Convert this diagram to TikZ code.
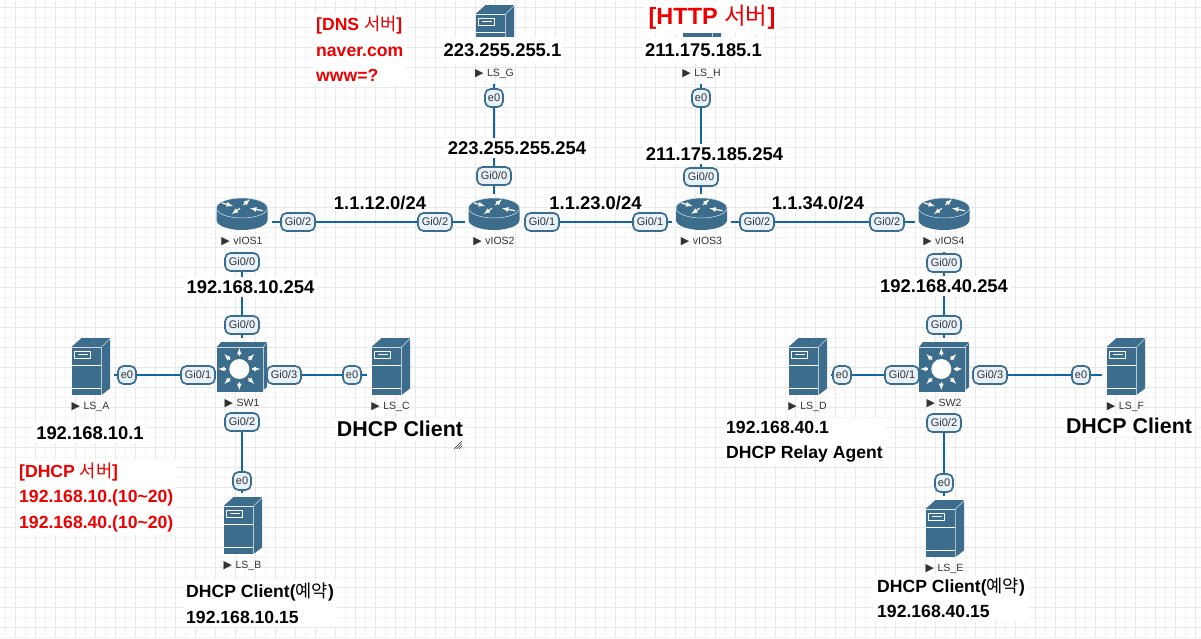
\documentclass[tikz,border=0pt]{standalone}
\usepackage{fontspec}
\setmainfont{Liberation Sans}
\newfontfamily\krfont{Noto Sans CJK KR}
\newfontfamily\symfont{DejaVu Sans}
\usetikzlibrary{shapes,arrows,positioning,backgrounds}

\definecolor{iconblue}{HTML}{3D6D8C}
\definecolor{linkblue}{HTML}{0F66A3}
\definecolor{pillfill}{HTML}{E8F2FA}
\definecolor{griddark}{HTML}{E9E9E9}
\definecolor{gridlight}{HTML}{F5F5F5}
\definecolor{labelgrey}{HTML}{333333}
\definecolor{notered}{HTML}{EE0000}

\newcommand{\devname}[1]{{\symfont\fontsize{11}{11}\selectfont ▶}\,\,#1}
\newcommand{\seo}{{\krfont\mdseries 서버}}
\newcommand{\yeyak}{{\krfont\mdseries 예약}}

\tikzset{
    link/.style={draw=linkblue, line width=2pt, shorten <=4pt, shorten >=4pt},
    pill/.style={draw=iconblue, fill=pillfill, line width=1.7pt, rounded corners=5.5pt, inner sep=0pt,
        minimum width=34pt, minimum height=18pt, text=labelgrey, font=\fontsize{11}{11}\selectfont},
    epill/.style={pill, minimum width=18pt},
    devlabel/.style={inner sep=0pt, outer sep=0pt, minimum height=12pt, yshift=-5.5pt, text=labelgrey, font=\fontsize{10.5}{10.5}\selectfont},
    devbox/.style={inner sep=0pt, outer sep=0pt},
    routerbox/.style={devbox, minimum width=51pt, minimum height=32pt},
    switchbox/.style={devbox, minimum width=50pt, minimum height=50pt},
    serverbox/.style={devbox, minimum width=39pt, minimum height=57pt},
    addr/.style={fill=white, inner sep=3pt, font=\bfseries\fontsize{18.4}{18.4}\selectfont},
    subnet/.style={addr, inner sep=1pt},
    bigname/.style={addr, font=\bfseries\fontsize{21.4}{21.4}\selectfont},
    note/.style={fill=white, inner sep=3pt, align=left, anchor=west, font=\bfseries\fontsize{17.6}{25.5}\selectfont},
    rednote/.style={note, text=notered},
    swarrow/.style={white, line width=1.2pt, -latex},
    rtarrow/.style={white, line width=1.2pt, -latex},
    serverpic/.pic={
        \fill[iconblue] (-19,-19.5) -- (-9,-28.5) -- (19.5,-28.5) -- (10.5,-19.5) -- cycle;
        \fill[iconblue] (11,-19) -- (19.5,-27.5) -- (19.5,22) -- (11,28.5) -- cycle;
        \fill[iconblue] (-19,-18.5) rectangle (10,28.5);
        \draw[white, line width=1pt] (-19,-1.5) -- (10,-1.5) (-19,21.5) -- (10,21.5);
        \draw[white, line width=1pt] (-16,-15.5) rectangle (0,-8.5);
        \draw[white, line width=1pt] (-13,-12) -- (-3,-12);
    },
    switchpic/.pic={
        \fill[iconblue] (-25,-20) -- (-21,-25) -- (25,-25) -- (21,-20) -- cycle;
        \fill[iconblue] (21.5,-19.5) -- (25,-24) -- (25,20) -- (21.5,23) -- cycle;
        \fill[iconblue] (-25,-19.5) rectangle (21,25);
        \begin{scope}[shift={(-2.7,2)}]
            \fill[white] (0,0) circle (10);
            \draw[swarrow] (0:13) -- (0:21); \draw[swarrow] (45:13) -- (45:21);
            \draw[swarrow] (90:13) -- (90:21); \draw[swarrow] (135:13) -- (135:21);
            \draw[swarrow] (180:13) -- (180:21); \draw[swarrow] (225:13) -- (225:21);
            \draw[swarrow] (270:13) -- (270:21); \draw[swarrow] (315:13) -- (315:21);
        \end{scope}
    },
    routerpic/.pic={
        \fill[iconblue] (-25.5,-6) -- (-25.5,6) arc[start angle=180, end angle=360, x radius=25.5, y radius=-10] -- (25.5,-6) -- cycle;
        \draw[fill=iconblue, draw=white!80!iconblue, line width=0.5pt] (0,-6) ellipse (25.5 and 10);
        \draw[rtarrow] (-20,-11) -- (-9,-8);
        \draw[rtarrow] (1.3,-9) -- (8,-14.7);
        \draw[rtarrow] (-2,-5.7) -- (-10.3,0);
        \draw[rtarrow] (21,-3.3) -- (8,-5.7);
    },
}

\begin{document}
\begin{tikzpicture}[x=1pt, y=-1pt]
    \useasboundingbox (0,0) rectangle (1201,638);

    % routers
    \node (vIOS1) [routerbox, label={[devlabel, name=vIOS1lbl]below:\devname{vIOS1}}] at (242,214) {};
    \node (vIOS2) [routerbox, label={[devlabel, name=vIOS2lbl]below:\devname{vIOS2}}] at (494,214) {};
    \node (vIOS3) [routerbox, label={[devlabel, name=vIOS3lbl]below:\devname{vIOS3}}] at (701.5,214) {};
    \node (vIOS4) [routerbox, label={[devlabel, name=vIOS4lbl]below:\devname{vIOS4}}] at (944,214) {};
    % switches
    \node (SW1) [switchbox, label={[devlabel, name=SW1lbl]below:\devname{SW1}}] at (242,367) {};
    \node (SW2) [switchbox, label={[devlabel, name=SW2lbl]below:\devname{SW2}}] at (944,367) {};
    % servers
    \node (LSA) [serverbox, label={[devlabel]below:\devname{LS\_A}}] at (90.5,366.5) {};
    \node (LSB) [serverbox, label={[devlabel]below:\devname{LS\_B}}] at (242.5,525.5) {};
    \node (LSC) [serverbox, label={[devlabel]below:\devname{LS\_C}}] at (390.5,366.5) {};
    \node (LSD) [serverbox, label={[devlabel]below:\devname{LS\_D}}] at (807.5,366.5) {};
    \node (LSE) [serverbox, label={[devlabel]below:\devname{LS\_E}}] at (944.5,528.5) {};
    \node (LSF) [serverbox, label={[devlabel]below:\devname{LS\_F}}] at (1125.5,366.5) {};
    \node (LSG) [serverbox, label={[devlabel, name=LSGlbl]below:\devname{LS\_G}}] at (494.5,33.5) {};
    \node (LSH) [serverbox, label={[devlabel, name=LSHlbl]below:\devname{LS\_H}}] at (701.5,33.5) {};

    \pic at (vIOS1) {routerpic};
    \pic at (vIOS2) {routerpic};
    \pic at (vIOS3) {routerpic};
    \pic at (vIOS4) {routerpic};
    \pic at (SW1) {switchpic};
    \pic at (SW2) {switchpic};
    \pic at (LSA) {serverpic};
    \pic at (LSB) {serverpic};
    \pic at (LSC) {serverpic};
    \pic at (LSD) {serverpic};
    \pic at (LSE) {serverpic};
    \pic at (LSF) {serverpic};
    \pic at (LSG) {serverpic};
    \pic at (LSH) {serverpic};

    % interface tags
    \node (G0) [epill] at (494,98) {e0};
    \node (H0) [epill] at (701,98) {e0};
    \node (R2top) [pill] at (494,176) {Gi0/0};
    \node (R3top) [pill] at (701,177) {Gi0/0};
    \node (R1east) [pill] at (298,222) {Gi0/2};
    \node (R2west) [pill] at (435,222) {Gi0/2};
    \node (R2east) [pill] at (542,222) {Gi0/1};
    \node (R3west) [pill] at (650,222) {Gi0/1};
    \node (R3east) [pill] at (757,222) {Gi0/2};
    \node (R4west) [pill] at (887,222) {Gi0/2};
    \node (R1down) [pill] at (242,262) {Gi0/0};
    \node (R4down) [pill] at (944,263) {Gi0/0};
    \node (S1up) [pill] at (242,325) {Gi0/0};
    \node (S2up) [pill] at (944,325) {Gi0/0};
    \node (A0) [epill] at (127,375) {e0};
    \node (S1west) [pill] at (198,375) {Gi0/1};
    \node (S1east) [pill] at (284,375) {Gi0/3};
    \node (C0) [epill] at (352,375) {e0};
    \node (D0) [epill] at (842,375) {e0};
    \node (S2west) [pill] at (902,375) {Gi0/1};
    \node (S2east) [pill] at (990,375) {Gi0/3};
    \node (F0) [epill] at (1081,375) {e0};
    \node (S1down) [pill] at (242,422) {Gi0/2};
    \node (B0) [epill] at (242,481) {e0};
    \node (S2down) [pill] at (944,423) {Gi0/2};
    \node (E0) [epill] at (944,483) {e0};

    \begin{scope}[on background layer]
        \fill[white] (0,0) rectangle (1201,638);
        \draw[gridlight, line width=1pt, shift={(5,7)}, step=10pt] (-5,-7) grid (1196,631);
        \draw[griddark, line width=1pt, shift={(15,7)}, step=20pt] (-15,-7) grid (1186,631);
        \draw[link] (LSGlbl.south -| G0) -- (vIOS2.north -| G0);
        \draw[link] (LSHlbl.south -| H0) -- (vIOS3.north -| H0);
        \draw[link] (vIOS1.east |- R1east) -- (vIOS2.west |- R1east);
        \draw[link] (vIOS2.east |- R2east) -- (vIOS3.west |- R2east);
        \draw[link] (vIOS3.east |- R3east) -- (vIOS4.west |- R3east);
        \draw[link] (vIOS1lbl.south -| R1down) -- (SW1.north -| R1down);
        \draw[link] (vIOS4lbl.south -| R4down) -- (SW2.north -| R4down);
        \draw[link] (LSA.east |- A0) -- (SW1.west |- A0);
        \draw[link] (SW1.east |- C0) -- (LSC.west |- C0);
        \draw[link] (SW1lbl.south -| B0) -- (LSB.north -| B0);
        \draw[link] (LSD.east |- D0) -- (SW2.west |- D0);
        \draw[link] (SW2.east |- F0) -- (LSF.west |- F0);
        \draw[link] (SW2lbl.south -| E0) -- (LSE.north -| E0);
    \end{scope}

    % pasted address texts
    \node (dnsnote) [rednote] at (313,49) {[DNS \seo]\\naver.com\\www=?};
    \node (httpnote) [addr, text=notered, minimum width=135pt, minimum height=31pt, inner sep=0pt, font=\bfseries\fontsize{23.5}{23.5}\selectfont] at (712,17.5) {[HTTP \seo]};
    \node (addrG) [addr, minimum height=27pt, inner sep=1pt] at (502.5,50.5) {223.255.255.1};
    \node (addrH) [addr, minimum height=26pt, inner sep=1pt] at (703.5,50) {211.175.185.1};
    \node (addrR2) [addr] at (517,148) {223.255.255.254};
    \node (addrR3) [addr] at (714.5,154) {211.175.185.254};
    \node (net12) [subnet] at (380,203) {1.1.12.0/24};
    \node (net23) [subnet] at (595.5,203) {1.1.23.0/24};
    \node (net34) [subnet] at (818,203) {1.1.34.0/24};
    \node (addrR1) [addr] at (250.5,287) {192.168.10.254};
    \node (addrR4) [addr] at (944,286) {192.168.40.254};
    \node (addrA) [addr] at (90,433) {192.168.10.1};
    \node (clientC) [bigname] at (400,429) {DHCP Client};
    \node (clientF) [bigname] at (1129,426) {DHCP Client};
    \node (dhcpnote) [rednote] at (16,497.5) {[DHCP \seo]\\192.168.10.(10\textasciitilde20)\\192.168.40.(10\textasciitilde20)};
    \node (clientB) [note] at (183,603.5) {DHCP Client(\yeyak)\\192.168.10.15};
    \node (relayD) [note] at (723,441.5) {192.168.40.1\\DHCP Relay Agent};
    \node (clientE) [note] at (874,598) {DHCP Client(\yeyak)\\192.168.40.15};

    \draw[labelgrey, line width=0.5pt] (454,449) -- (462,441) (456.5,449) -- (462,443.5) (459,449) -- (462,446);
\end{tikzpicture}
\end{document}
